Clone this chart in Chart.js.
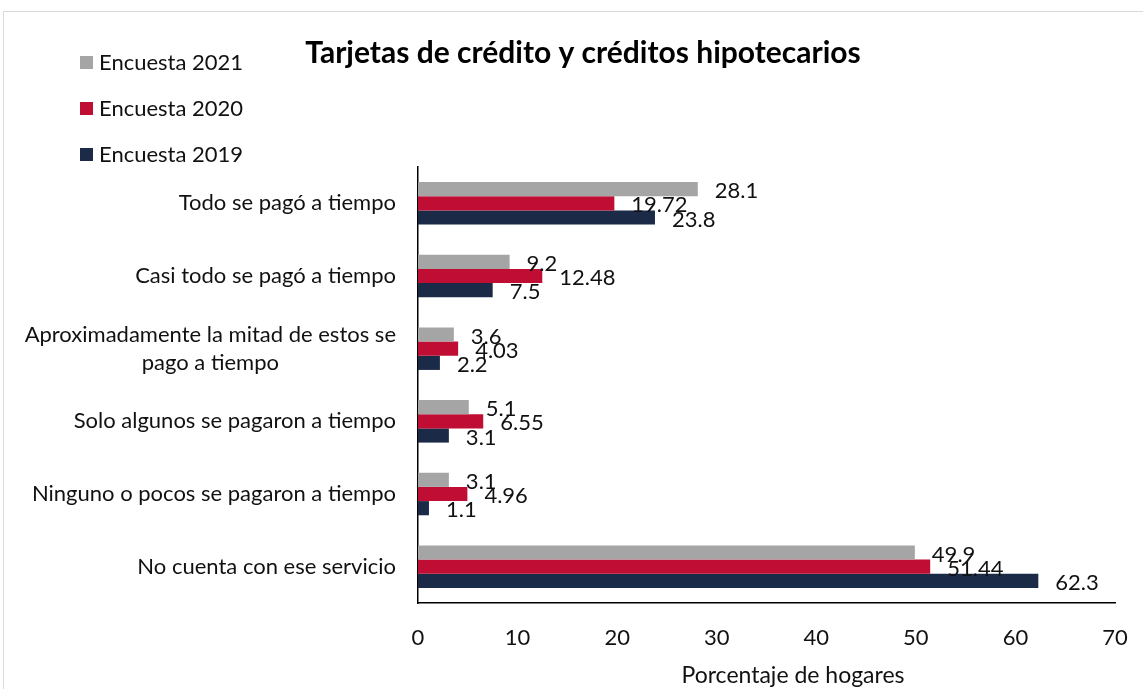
<!DOCTYPE html>
<html>
<head>
<meta charset="utf-8">
<script src="https://cdn.jsdelivr.net/npm/chart.js@4.4.1/dist/chart.umd.min.js"></script>
<style>
  html, body { margin: 0; padding: 0; background: #fff; }
  #wrap { width: 1143px; height: 689px; position: relative; }
</style>
</head>
<body>
<div id="wrap"><canvas id="c" width="1143" height="689"></canvas></div>
<script>
const categories = [
  'Todo se pagó a tiempo',
  'Casi todo se pagó a tiempo',
  ['Aproximadamente la mitad de estos se', 'pago a tiempo'],
  'Solo algunos se pagaron a tiempo',
  'Ninguno o pocos se pagaron a tiempo',
  'No cuenta con ese servicio'
];
const seriesNames = ['Encuesta 2021', 'Encuesta 2020', 'Encuesta 2019'];
const values2021 = [28.1, 9.2, 3.6, 5.1, 3.1, 49.9];
const values2020 = [19.72, 12.48, 4.03, 6.55, 4.96, 51.44];
const values2019 = [23.8, 7.5, 2.2, 3.1, 1.1, 62.3];
const valueLabels2021 = ['28.1', '9.2', '3.6', '5.1', '3.1', '49.9'];
const valueLabels2020 = ['19.72', '12.48', '4.03', '6.55', '4.96', '51.44'];
const valueLabels2019 = ['23.8', '7.5', '2.2', '3.1', '1.1', '62.3'];
const xTicks = [0, 10, 20, 30, 40, 50, 60, 70];
const chartTitle = 'Tarjetas de crédito y créditos hipotecarios';
const xAxisTitle = 'Porcentaje de hogares';

const colors = ['#A5A5A5', '#C00D34', '#1B2A47'];
const FONT = 'Lato, "Open Sans", sans-serif';

const extras = {
  id: 'extras',
  beforeDraw(chart) {
    const ctx = chart.ctx;
    ctx.save();
    ctx.fillStyle = '#fff';
    ctx.fillRect(0, 0, chart.width, chart.height);
    ctx.strokeStyle = '#D9D9D9';
    ctx.lineWidth = 1;
    ctx.strokeRect(3.5, 11.5, chart.width + 10, chart.height + 10);
    ctx.restore();
  },
  afterDraw(chart) {
    const ctx = chart.ctx;
    ctx.save();
    // title
    ctx.fillStyle = '#000';
    ctx.font = 'bold 30px ' + FONT;
    ctx.textAlign = 'center';
    ctx.textBaseline = 'middle';
    ctx.fillText(chartTitle, 583, 53);
    // legend
    ctx.font = '22px ' + FONT;
    ctx.textAlign = 'left';
    const ly = [63, 109, 155];
    chart.data.datasets.forEach((ds, i) => {
      ctx.fillStyle = ds.backgroundColor;
      ctx.fillRect(80, ly[i] - 7, 13, 13);
      ctx.fillStyle = '#111';
      ctx.fillText(ds.label, 99, ly[i]);
    });
    // category labels (multi-line labels centered as a block, right-aligned to axis)
    const yScale = chart.scales.y;
    ctx.font = '22px ' + FONT;
    ctx.fillStyle = '#111';
    const rightEdge = 396;
    const lineH = 28;
    chart.data.labels.forEach((lab, i) => {
      const lines = Array.isArray(lab) ? lab : [lab];
      const y0 = yScale.getPixelForValue(i);
      const maxW = Math.max(...lines.map(l => ctx.measureText(l).width));
      const cx = rightEdge - maxW / 2;
      lines.forEach((l, k) => {
        const y = y0 + (k - (lines.length - 1) / 2) * lineH;
        ctx.textAlign = 'center';
        ctx.fillText(l, cx, y);
      });
    });
    // value labels
    ctx.font = '22px ' + FONT;
    ctx.fillStyle = '#111';
    ctx.textAlign = 'left';
    ctx.textBaseline = 'middle';
    chart.data.datasets.forEach((ds, di) => {
      const meta = chart.getDatasetMeta(di);
      meta.data.forEach((bar, i) => {
        ctx.fillText(ds.valueLabels[i], bar.x + 17, bar.y + 2);
      });
    });
    // x axis title
    ctx.font = '23px ' + FONT;
    ctx.textAlign = 'center';
    ctx.fillStyle = '#111';
    ctx.fillText(xAxisTitle, 793, 676);
    ctx.restore();
  }
};

new Chart(document.getElementById('c'), {
  type: 'bar',
  data: {
    labels: categories,
    datasets: [
      { label: seriesNames[0], data: values2021, valueLabels: valueLabels2021, backgroundColor: colors[0] },
      { label: seriesNames[1], data: values2020, valueLabels: valueLabels2020, backgroundColor: colors[1] },
      { label: seriesNames[2], data: values2019, valueLabels: valueLabels2019, backgroundColor: colors[2] }
    ]
  },
  options: {
    indexAxis: 'y',
    responsive: false,
    animation: false,
    devicePixelRatio: 1,
    layout: { padding: { left: 0, right: 28, top: 167, bottom: 0 } },
    datasets: { bar: { barPercentage: 1.0, categoryPercentage: 0.585 } },
    plugins: {
      legend: { display: false },
      title: { display: false },
      tooltip: { enabled: false }
    },
    scales: {
      x: {
        min: 0, max: 70,
        afterBuildTicks(scale) { scale.ticks = xTicks.map(v => ({ value: v })); },
        afterFit(scale) { scale.height = 86; scale.paddingLeft = 0; scale.paddingRight = 0; },
        grid: { display: false, drawTicks: false },
        border: { display: true, color: '#000', width: 1.5 },
        ticks: { color: '#111', font: { size: 22, family: FONT }, padding: 22, maxRotation: 0 }
      },
      y: {
        afterFit(scale) { scale.width = 418; },
        grid: { display: false, drawTicks: false },
        border: { display: true, color: '#000', width: 1.5 },
        ticks: { display: false }
      }
    }
  },
  plugins: [extras]
});
</script>
</body>
</html>
